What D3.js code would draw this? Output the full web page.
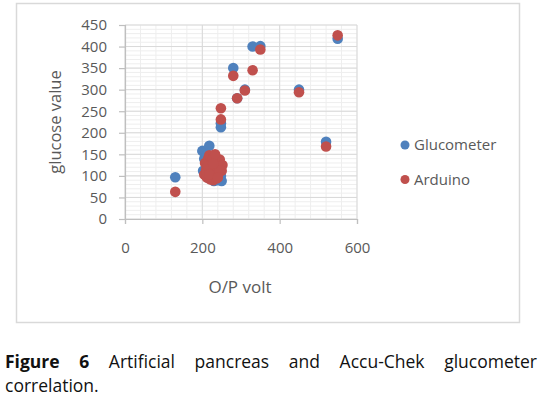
<!DOCTYPE html>
<html>
<head>
<meta charset="utf-8">
<script src="https://cdnjs.cloudflare.com/ajax/libs/d3/7.8.5/d3.min.js"></script>
<style>
  body { margin: 0; background: #fff; }
  .cap {
    position: absolute; left: 5px; width: 532px;
    font-family: "Open Sans", "Liberation Sans", sans-serif; font-size: 17.5px;
    color: #111; white-space: nowrap;
  }
  #cap1 { top: 349px; display: flex; justify-content: space-between; }
  #cap2 { top: 373px; }
</style>
</head>
<body>
<div id="chart"></div>
<div id="cap1" class="cap"><b>Figure</b><b>6</b><span>Artificial</span><span>pancreas</span><span>and</span><span>Accu-Chek</span><span>glucometer</span></div>
<div id="cap2" class="cap">correlation.</div>
<script>
// values
var gluX = [130, 330, 350, 280, 310, 290, 248, 248, 450, 520, 550,
  200, 218, 205, 210, 215, 220, 225, 230, 240, 250, 245, 235, 228, 222, 212, 238, 242, 232, 208, 216, 226, 248, 202, 236];
var gluY = [97, 400, 401, 350, 300, 280, 213, 222, 300, 179, 418,
  158, 170, 140, 125, 110, 100, 92, 88, 90, 88, 95, 105, 118, 130, 148, 120, 135, 142, 102, 95, 145, 100, 112, 98];

var ardX = [130, 350, 280, 330, 310, 290, 248, 248, 450, 520, 550,
  205, 207, 210, 212, 215, 218, 222, 225, 228, 230, 232, 235, 238, 240, 242, 245, 248, 252, 250, 220, 226, 212, 236, 244, 214, 233, 218, 228, 240];
var ardY = [63, 393, 332, 345, 298, 280, 257, 231, 294, 168, 426,
  103, 130, 115, 96, 140, 148, 125, 110, 90, 145, 100, 135, 120, 105, 128, 138, 118, 125, 112, 92, 138, 108, 94, 112, 122, 150, 104, 128, 96];

var xTicks = [0, 200, 400, 600];
var yTicks = [0, 50, 100, 150, 200, 250, 300, 350, 400, 450];

var series = [
  { name: "Glucometer", color: "#4F81BD", xs: gluX, ys: gluY },
  { name: "Arduino", color: "#C0504D", xs: ardX, ys: ardY }
];

var width = 540, height = 348;
var font = "'Open Sans', 'Liberation Sans', sans-serif";

var svg = d3.select("#chart").append("svg")
  .attr("width", width)
  .attr("height", height)
  .style("position", "absolute").style("left", 0).style("top", 0);

// outer chart frame
svg.append("rect")
  .attr("x", 16.5).attr("y", 3.5)
  .attr("width", 503).attr("height", 319)
  .attr("fill", "#fff").attr("stroke", "#d9d9d9").attr("stroke-width", 1.5);

var x = d3.scaleLinear().domain([0, 600]).range([125, 357]);
var y = d3.scaleLinear().domain([0, 450]).range([219, 25]);

// minor grid
var g = svg.append("g");
g.selectAll(".vminor").data(d3.range(0, 601, 40))
  .enter().append("line")
  .attr("x1", d => x(d)).attr("x2", d => x(d))
  .attr("y1", y(0)).attr("y2", y(450))
  .attr("stroke", "#eeeeee").attr("stroke-width", 1);
g.selectAll(".hminor").data(d3.range(0, 451, 10))
  .enter().append("line")
  .attr("x1", x(0)).attr("x2", x(600))
  .attr("y1", d => y(d)).attr("y2", d => y(d))
  .attr("stroke", "#eeeeee").attr("stroke-width", 1);

// major grid
g.selectAll(".vmajor").data(xTicks)
  .enter().append("line")
  .attr("x1", d => x(d)).attr("x2", d => x(d))
  .attr("y1", y(0)).attr("y2", y(450))
  .attr("stroke", "#d9d9d9").attr("stroke-width", 1);
g.selectAll(".hmajor").data(yTicks)
  .enter().append("line")
  .attr("x1", x(0)).attr("x2", x(600))
  .attr("y1", d => y(d)).attr("y2", d => y(d))
  .attr("stroke", "#d9d9d9").attr("stroke-width", 1);

// axes
var xAxis = svg.append("g")
  .attr("transform", "translate(0," + y(0) + ")")
  .call(d3.axisBottom(x).tickValues(xTicks).tickSize(5).tickPadding(18));
var yAxis = svg.append("g")
  .attr("transform", "translate(" + x(0) + ",0)")
  .call(d3.axisLeft(y).tickValues(yTicks).tickSize(6).tickPadding(12));

[xAxis, yAxis].forEach(function (a) {
  a.select(".domain").attr("stroke", "#bfbfbf").attr("stroke-width", 1.2);
  a.selectAll(".tick line").attr("stroke", "#bfbfbf").attr("stroke-width", 1.2);
  a.selectAll(".tick text")
    .attr("fill", "#595959")
    .style("font-family", font)
    .style("font-size", "15px");
});

// points
series.forEach(function (s) {
  svg.append("g").selectAll("circle")
    .data(s.xs.map((v, i) => [v, s.ys[i]]))
    .enter().append("circle")
    .attr("cx", d => x(d[0]))
    .attr("cy", d => y(d[1]))
    .attr("r", 5.3)
    .attr("fill", s.color);
});

// axis titles
svg.append("text")
  .attr("transform", "translate(61,122) rotate(-90)")
  .attr("text-anchor", "middle")
  .attr("fill", "#595959")
  .style("font-family", font)
  .style("font-size", "16.5px")
  .text("glucose value");
svg.append("text")
  .attr("x", 240).attr("y", 293)
  .attr("text-anchor", "middle")
  .attr("fill", "#595959")
  .style("font-family", font)
  .style("font-size", "17px")
  .text("O/P volt");

// legend
var legend = svg.append("g").selectAll("g")
  .data(series).enter().append("g")
  .attr("transform", (d, i) => "translate(405," + (145 + i * 34.5) + ")");
legend.append("circle").attr("r", 4.5).attr("fill", d => d.color);
legend.append("text")
  .attr("x", 9).attr("y", 5)
  .attr("fill", "#595959")
  .style("font-family", font)
  .style("font-size", "15px")
  .text(d => d.name);
</script>
</body>
</html>
